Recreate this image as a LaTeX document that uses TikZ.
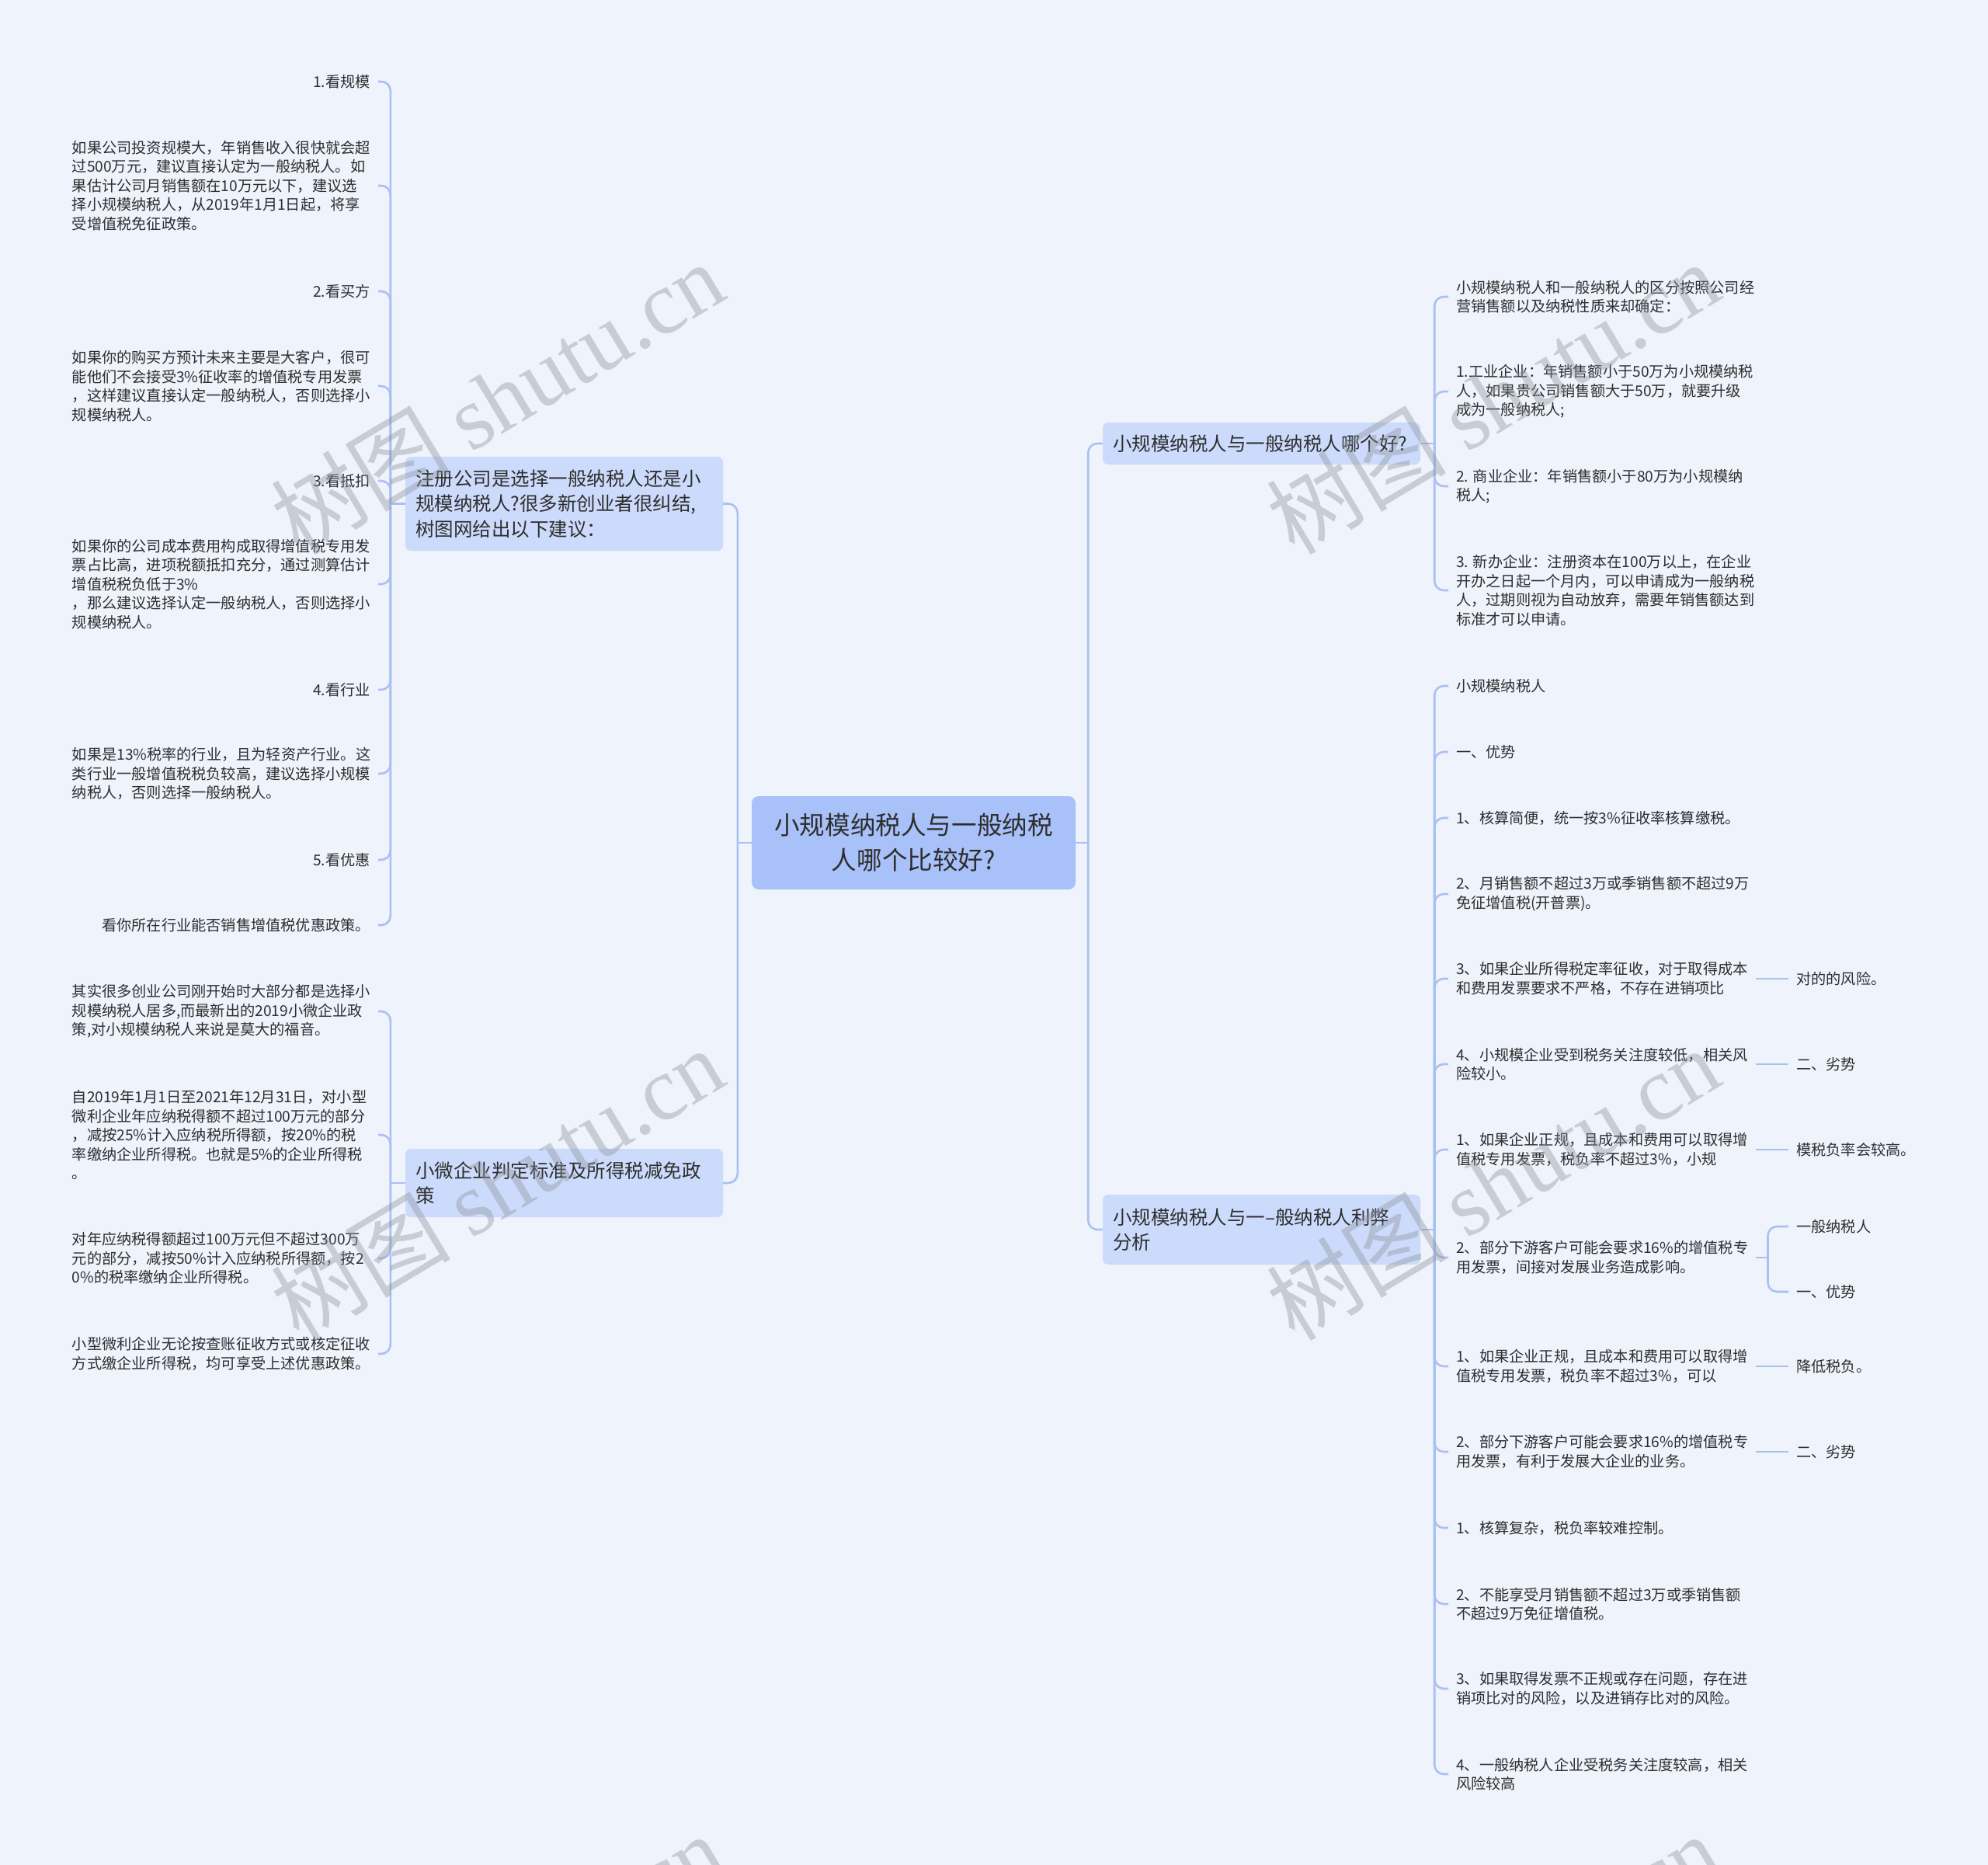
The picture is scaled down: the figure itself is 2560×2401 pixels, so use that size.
\documentclass[tikz,border=0pt]{standalone}
\usepackage{fontspec}
\setmainfont{Noto Sans CJK SC}
\newfontfamily\wmlatin{Liberation Serif}
\definecolor{bgc}{HTML}{EEF3FC}
\definecolor{rootc}{HTML}{A8C1F8}
\definecolor{brc}{HTML}{CCDBFB}
\definecolor{linec}{HTML}{A9C1F1}
\definecolor{txtc}{HTML}{2E2E2E}
\definecolor{wmc}{HTML}{8E939B}
\tikzset{
 conn/.style={draw=linec, line width=2.6pt, rounded corners=12pt},
 leaf/.style={inner xsep=10pt, inner ysep=3pt, align=left, text=txtc, font=\fontsize{19.2}{24.5}\selectfont},
 leafL/.style={leaf, anchor=east},
 leafP/.style={leaf, anchor=east, text width=384pt},
 leafR/.style={leaf, anchor=west},
 branchbox/.style={fill=brc, rounded corners=7pt, text width=383pt, inner xsep=13pt, align=left, text=txtc, font=\fontsize{24.5}{32.6}\selectfont},
 rootbox/.style={fill=rootc, rounded corners=9pt, minimum width=417pt, minimum height=120pt, align=center, text=txtc, font=\fontsize{32.6}{45}\selectfont},
 wm/.style={text=wmc, opacity=0.4, rotate=31, font=\fontsize{116}{116}\selectfont}
}
\begin{document}
\begin{tikzpicture}[x=1pt,y=-1pt]
\fill[bgc] (0,0) rectangle (2560,2401);
\useasboundingbox (0,0) rectangle (2560,2401);

% root and main branches
\node[rootbox] (root) at (1176.5,1085) {小规模纳税人与一般纳税\\人哪个比较好?};
\node[branchbox, minimum height=121pt] (lb1) at (726.5,648.5) {注册公司是选择一般纳税人还是小\\规模纳税人?很多新创业者很纠结,\\树图网给出以下建议：};
\node[branchbox, minimum height=88pt] (lb2) at (726.5,1523) {小微企业判定标准及所得税减免政\\策};
\node[branchbox, minimum height=54pt] (rb1) at (1624.5,571) {小规模纳税人与一般纳税人哪个好?};
\node[branchbox, minimum height=90pt] (rb2) at (1624.5,1583) {小规模纳税人与一–般纳税人利弊\\分析};

% left branch 1 leaves
\node[leafL] (L1) at (487,105) {1.看规模};
\node[leafP] (L2) at (487,239) {如果公司投资规模大，年销售收入很快就会超\\过500万元，建议直接认定为一般纳税人。如\\果估计公司月销售额在10万元以下，建议选\\择小规模纳税人，从2019年1月1日起，将享\\受增值税免征政策。};
\node[leafL] (L3) at (487,375) {2.看买方};
\node[leafP] (L4) at (487,497) {如果你的购买方预计未来主要是大客户，很可\\能他们不会接受3\%征收率的增值税专用发票\\，这样建议直接认定一般纳税人，否则选择小\\规模纳税人。};
\node[leafL] (L5) at (487,619) {3.看抵扣};
\node[leafP] (L6) at (487,752) {如果你的公司成本费用构成取得增值税专用发\\票占比高，进项税额抵扣充分，通过测算估计\\增值税税负低于3\%\\，那么建议选择认定一般纳税人，否则选择小\\规模纳税人。};
\node[leafL] (L7) at (487,888) {4.看行业};
\node[leafP] (L8) at (487,996) {如果是13\%税率的行业，且为轻资产行业。这\\类行业一般增值税税负较高，建议选择小规模\\纳税人，否则选择一般纳税人。};
\node[leafL] (L9) at (487,1107) {5.看优惠};
\node[leafL] (L10) at (487,1191) {看你所在行业能否销售增值税优惠政策。};

% left branch 2 leaves
\node[leafP] (M1) at (487,1302) {其实很多创业公司刚开始时大部分都是选择小\\规模纳税人居多,而最新出的2019小微企业政\\策,对小规模纳税人来说是莫大的福音。};
\node[leafP] (M2) at (487,1461) {自2019年1月1日至2021年12月31日，对小型\\微利企业年应纳税得额不超过100万元的部分\\，减按25\%计入应纳税所得额，按20\%的税\\率缴纳企业所得税。也就是5\%的企业所得税\\。};
\node[leafP] (M3) at (487,1620) {对年应纳税得额超过100万元但不超过300万\\元的部分，减按50\%计入应纳税所得额，按2\\0\%的税率缴纳企业所得税。};
\node[leafP] (M4) at (487,1743) {小型微利企业无论按查账征收方式或核定征收\\方式缴企业所得税，均可享受上述优惠政策。};

% right branch 1 leaves
\node[leafR] (R1) at (1865,382) {小规模纳税人和一般纳税人的区分按照公司经\\营销售额以及纳税性质来却确定：};
\node[leafR] (R2) at (1865,504) {1.工业企业：年销售额小于50万为小规模纳税\\人，如果贵公司销售额大于50万，就要升级\\成为一般纳税人;};
\node[leafR] (R3) at (1865,626) {2. 商业企业：年销售额小于80万为小规模纳\\税人;};
\node[leafR] (R4) at (1865,760) {3. 新办企业：注册资本在100万以上，在企业\\开办之日起一个月内，可以申请成为一般纳税\\人，过期则视为自动放弃，需要年销售额达到\\标准才可以申请。};

% right branch 2 leaves
\node[leafR] (S1) at (1865,883) {小规模纳税人};
\node[leafR] (S2) at (1865,968) {一、优势};
\node[leafR] (S3) at (1865,1053) {1、核算简便，统一按3\%征收率核算缴税。};
\node[leafR] (S4) at (1865,1151) {2、月销售额不超过3万或季销售额不超过9万\\免征增值税(开普票)。};
\node[leafR] (S5) at (1865,1260) {3、如果企业所得税定率征收，对于取得成本\\和费用发票要求不严格，不存在进销项比};
\node[leafR] (S6) at (1865,1370) {4、小规模企业受到税务关注度较低，相关风\\险较小。};
\node[leafR] (S7) at (1865,1480) {1、如果企业正规，且成本和费用可以取得增\\值税专用发票，税负率不超过3\%，小规};
\node[leafR] (S8) at (1865,1619) {2、部分下游客户可能会要求16\%的增值税专\\用发票，间接对发展业务造成影响。};
\node[leafR] (S9) at (1865,1759) {1、如果企业正规，且成本和费用可以取得增\\值税专用发票，税负率不超过3\%，可以};
\node[leafR] (S10) at (1865,1869) {2、部分下游客户可能会要求16\%的增值税专\\用发票，有利于发展大企业的业务。};
\node[leafR] (S11) at (1865,1967) {1、核算复杂，税负率较难控制。};
\node[leafR] (S12) at (1865,2065) {2、不能享受月销售额不超过3万或季销售额\\不超过9万免征增值税。};
\node[leafR] (S13) at (1865,2174) {3、如果取得发票不正规或存在问题，存在进\\销项比对的风险，以及进销存比对的风险。};
\node[leafR] (S14) at (1865,2284) {4、一般纳税人企业受税务关注度较高，相关\\风险较高};

% grandchildren
\node[leafR] (G5) at (2303,1260) {对的的风险。};
\node[leafR] (G6) at (2303,1370) {二、劣势};
\node[leafR] (G7) at (2303,1480) {模税负率会较高。};
\node[leafR] (G8a) at (2303,1579) {一般纳税人};
\node[leafR] (G8b) at (2303,1663) {一、优势};
\node[leafR] (G9) at (2303,1759) {降低税负。};
\node[leafR] (G10) at (2303,1869) {二、劣势};

% connectors root
\coordinate (tL0) at ([xshift=-18pt]root.west);
\coordinate (tR0) at ([xshift=16pt]root.east);
\draw[conn] (root.west) -- (tL0);
\draw[conn] (tL0) |- (lb1.east);
\draw[conn] (tL0) |- (lb2.east);
\draw[conn] (root.east) -- (tR0);
\draw[conn] (tR0) |- (rb1.west);
\draw[conn] (tR0) |- (rb2.west);

% left branch 1
\coordinate (t1) at ([xshift=-19pt]lb1.west);
\draw[conn] (lb1.west) -- (t1);
\foreach \n in {L1,L2,L3,L4,L5,L6,L7,L8,L9,L10} \draw[conn] (t1) |- (\n.east);

% left branch 2
\coordinate (t2) at ([xshift=-19pt]lb2.west);
\draw[conn] (lb2.west) -- (t2);
\foreach \n in {M1,M2,M3,M4} \draw[conn] (t2) |- (\n.east);

% right branch 1
\coordinate (t3) at ([xshift=18pt]rb1.east);
\draw[conn] (rb1.east) -- (t3);
\foreach \n in {R1,R2,R3,R4} \draw[conn] (t3) |- (\n.west);

% right branch 2
\coordinate (t4) at ([xshift=18pt]rb2.east);
\draw[conn] (rb2.east) -- (t4);
\foreach \n in {S1,S2,S3,S4,S5,S6,S7,S8,S9,S10,S11,S12,S13,S14} \draw[conn] (t4) |- (\n.west);

% grandchildren connectors
\draw[conn] (S5.east) -- (G5.west);
\draw[conn] (S6.east) -- (G6.west);
\draw[conn] (S7.east) -- (G7.west);
\coordinate (t8) at ([xshift=15pt]S8.east);
\draw[conn] (S8.east) -- (t8);
\draw[conn] (t8) |- (G8a.west);
\draw[conn] (t8) |- (G8b.west);
\draw[conn] (S9.east) -- (G9.west);
\draw[conn] (S10.east) -- (G10.west);

% watermarks
\node[wm] (w1) at (640,512) {树图 {\wmlatin shutu.cn}};
\node[wm] (w2) at (1922,512) {树图 {\wmlatin shutu.cn}};
\node[wm] (w3) at (640,1524) {树图 {\wmlatin shutu.cn}};
\node[wm] (w4) at (1922,1524) {树图 {\wmlatin shutu.cn}};
\node[wm] (w5) at (640,2536) {树图 {\wmlatin shutu.cn}};
\node[wm] (w6) at (1922,2536) {树图 {\wmlatin shutu.cn}};
\end{tikzpicture}
\end{document}
